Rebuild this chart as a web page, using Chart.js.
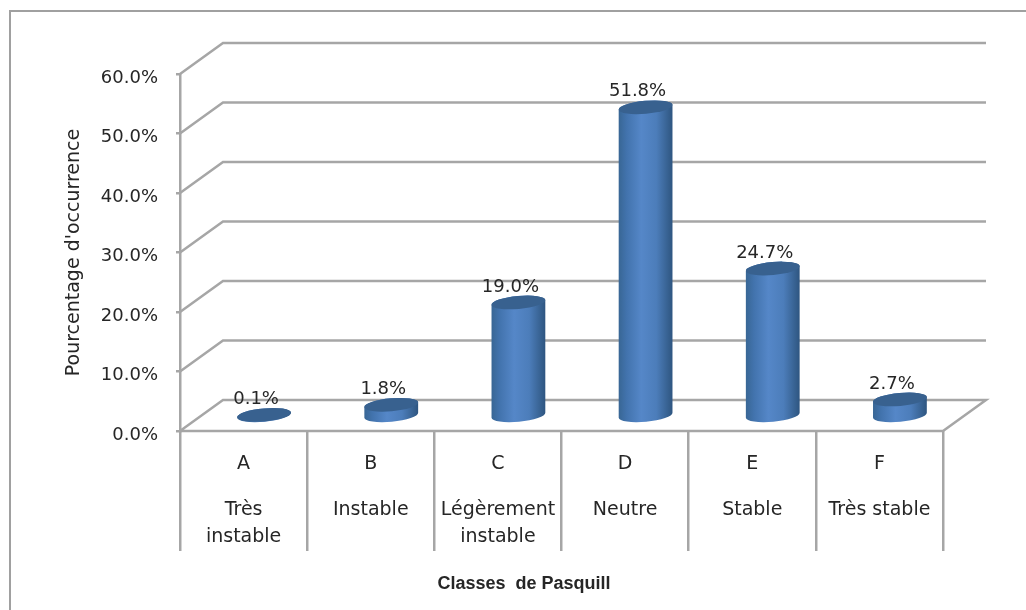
<!DOCTYPE html>
<html>
<head>
<meta charset="utf-8">
<style>
  html, body { margin: 0; background: #fff; }
  #wrap { width: 1026px; height: 610px; }
</style>
<script src="https://cdn.jsdelivr.net/npm/chart.js@4"></script>
</head>
<body>
<div id="wrap"><canvas id="myChart" width="1026" height="610"></canvas></div>
<script>
var classes = ["A", "B", "C", "D", "E", "F"]
var descriptions = [["Très", "instable"], ["Instable"], ["Légèrement", "instable"], ["Neutre"], ["Stable"], ["Très stable"]]
var occurrence = [0.1, 1.8, 19.0, 51.8, 24.7, 2.7]
var xTitle = "Classes  de Pasquill"
var yTitle = "Pourcentage d'occurrence"

var lineGrey = "#a6a6a6"
var textColor = "#262626"
var fontName = "'DejaVu Sans'"
// depth of the fake 3D box
var depthX = 43
var depthY = -31

// back wall, side wall and floor
var wallPlugin = {
  id: "wall",
  beforeDatasetsDraw(chart) {
    var ctx = chart.ctx
    var yScale = chart.scales.y
    var area = chart.chartArea
    ctx.save()
    ctx.strokeStyle = lineGrey
    ctx.lineWidth = 2.5
    yScale.ticks.forEach(function (t) {
      var y = yScale.getPixelForValue(t.value)
      ctx.beginPath()
      ctx.moveTo(area.left, y)
      ctx.lineTo(area.left + depthX, y + depthY)
      ctx.lineTo(area.right + depthX, y + depthY)
      if (t.value == 0) {
        ctx.lineTo(area.right, y)
        ctx.lineTo(area.left, y)
      }
      ctx.stroke()
    })
    ctx.restore()
  }
}

// the bars are drawn as cylinders half way into the box
var cylinderPlugin = {
  id: "cylinder",
  afterDatasetsDraw(chart) {
    var ctx = chart.ctx
    var meta = chart.getDatasetMeta(0)
    var tilt = -0.09
    var ry = 6.5
    ctx.save()
    meta.data.forEach(function (bar, i) {
      var cx = bar.x + depthX / 2 - 1
      var top = bar.y + depthY / 2
      var base = bar.base + depthY / 2 + 1
      var rx = bar.width / 2

      var grad = ctx.createLinearGradient(cx - rx, 0, cx + rx, 0)
      grad.addColorStop(0, "#386694")
      grad.addColorStop(0.15, "#4273ad")
      grad.addColorStop(0.42, "#5587c8")
      grad.addColorStop(0.7, "#4c7dba")
      grad.addColorStop(0.92, "#36608f")
      grad.addColorStop(1, "#2e5580")

      ctx.beginPath()
      ctx.ellipse(cx, base, rx, ry, tilt, 0, Math.PI)
      ctx.ellipse(cx, top, rx, ry, tilt, Math.PI, 2 * Math.PI)
      ctx.closePath()
      ctx.fillStyle = grad
      ctx.fill()

      ctx.beginPath()
      ctx.ellipse(cx, top, rx, ry, tilt, 0, 2 * Math.PI)
      ctx.fillStyle = "#38618f"
      ctx.fill()

      ctx.fillStyle = textColor
      ctx.font = "18px " + fontName
      ctx.textAlign = "center"
      ctx.textBaseline = "middle"
      ctx.fillText(occurrence[i].toFixed(1) + "%", cx - 8, top - 15.5)
    })
    ctx.restore()
  }
}

// thin frame round the chart, cut by the page edge, and the x title
var framePlugin = {
  id: "frame",
  beforeDraw(chart) {
    var ctx = chart.ctx
    ctx.save()
    ctx.strokeStyle = "#a0a0a0"
    ctx.lineWidth = 2
    ctx.strokeRect(10, 11, 1100, 1100)
    ctx.fillStyle = textColor
    ctx.font = "bold 18px 'Liberation Sans'"
    ctx.textAlign = "center"
    ctx.textBaseline = "middle"
    ctx.fillText(xTitle, 524, 584)
    ctx.restore()
  }
}

new Chart("myChart", {
  type: "bar",
  data: {
    labels: classes,
    datasets: [{
      data: occurrence,
      backgroundColor: "transparent",
      barThickness: 54
    }]
  },
  plugins: [framePlugin, wallPlugin, cylinderPlugin],
  options: {
    responsive: false,
    animation: false,
    layout: { padding: { left: 22, right: 83, top: 74, bottom: 36 } },
    plugins: {
      legend: { display: false },
      tooltip: { enabled: false }
    },
    scales: {
      x: {
        grid: { display: true, drawOnChartArea: false, color: lineGrey, lineWidth: 2.5, tickLength: 120 },
        border: { display: false },
        ticks: {
          color: textColor, font: { family: fontName, size: 19 },
          padding: -98, maxRotation: 0, minRotation: 0, autoSkip: false
        },
        afterFit(scale) { scale.height = 60 }
      },
      x2: {
        type: "category",
        labels: descriptions,
        position: "bottom",
        offset: true,
        grid: { display: false },
        border: { display: false },
        ticks: {
          color: textColor, font: { family: fontName, size: 19, lineHeight: 1.42 },
          padding: -2, maxRotation: 0, minRotation: 0, autoSkip: false
        },
        afterFit(scale) { scale.height = 83 }
      },
      y: {
        min: 0,
        max: 60,
        grid: { display: true, drawOnChartArea: false, color: lineGrey, lineWidth: 2.5, tickLength: 4 },
        border: { display: true, color: lineGrey, width: 2.5 },
        ticks: {
          stepSize: 10, color: textColor, font: { family: fontName, size: 18 }, padding: 18, labelOffset: 4,
          callback: function (v) { return v.toFixed(1) + "%" }
        },
        title: {
          display: true,
          text: yTitle,
          color: textColor,
          font: { family: fontName, size: 19 },
          padding: { top: 41, bottom: 0 }
        },
        afterFit(scale) { scale.width = 158 }
      }
    }
  }
})
</script>
</body>
</html>
